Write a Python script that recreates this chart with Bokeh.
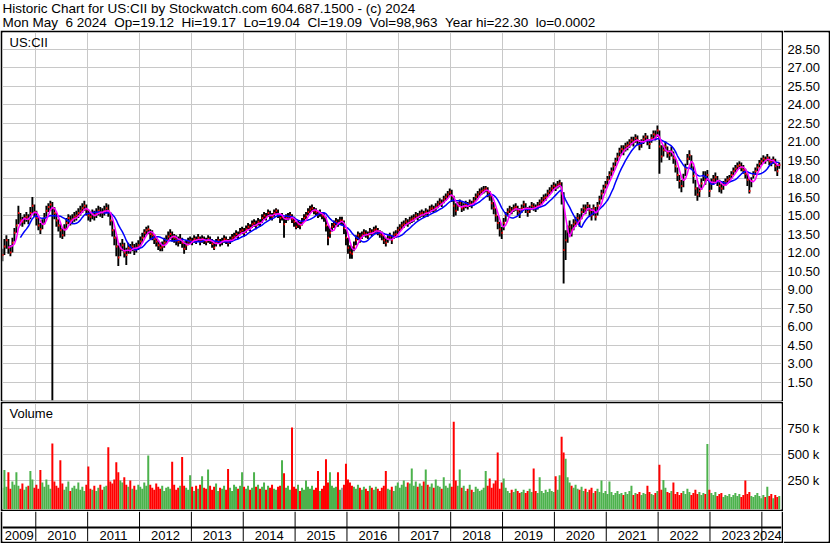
import numpy as np
import pandas as pd
from bokeh.plotting import figure
from bokeh.layouts import column, row
from bokeh.models import Range1d, FixedTicker, Label, ColumnDataSource, Span
from bokeh.core.properties import value
from bokeh.embed import file_html
from bokeh.resources import INLINE

FONT = "Liberation Sans"
FS = "13px"
HEAD_FS = "13.5px"

header1 = "Historic Chart for US:CII by Stockwatch.com 604.687.1500 - (c) 2024"
header2 = ("Mon May \u00a06 2024 \u00a0Op=19.12 \u00a0Hi=19.17 \u00a0Lo=19.04 \u00a0Cl=19.09"
           " \u00a0Vol=98,963 \u00a0Year hi=22.30 \u00a0lo=0.0002")
symbol = "US:CII"

first_bar = "2009-05-11"
last_bar = "2024-05-03"

# bi-weekly bars: close, high, low (price) and volume (thousands)
close = [
    11.8, 12.5, 13.0, 12.4, 12.0, 12.8, 13.6, 14.2, 15.2, 14.6,
    14.5, 14.8, 14.9, 14.7, 15.2, 15.8, 15.3, 14.8, 14.2, 13.9,
    14.3, 14.8, 15.4, 15.7, 15.9, 15.6, 15.2, 14.6, 14.2, 13.8,
    13.4, 13.9, 14.4, 14.8, 14.6, 14.7, 14.9, 15.0, 15.2, 15.4,
    15.6, 15.8, 15.5, 15.0, 14.9, 15.1, 15.0, 15.2, 15.4, 15.3,
    15.2, 15.4, 15.6, 15.4, 14.6, 13.8, 13.2, 12.5, 11.6, 12.3,
    12.6, 12.0, 11.8, 12.4, 12.3, 12.5, 12.2, 12.4, 12.6, 12.9,
    13.2, 13.6, 13.8, 13.9, 13.5, 13.4, 13.1, 12.9, 12.6, 12.4,
    12.5, 12.8, 13.0, 13.3, 13.5, 13.3, 13.2, 13.0, 12.9, 13.1,
    12.8, 12.3, 12.6, 12.9, 13.0, 12.9, 13.1, 13.0, 13.2, 12.9,
    13.1, 13.0, 12.9, 13.1, 13.0, 12.7, 12.4, 12.8, 13.0, 12.8,
    12.9, 13.1, 13.0, 12.8, 13.0, 13.2, 13.3, 13.5, 13.4, 13.7,
    13.8, 13.6, 13.9, 14.1, 14.0, 14.3, 14.4, 14.2, 14.5, 14.4,
    14.8, 15.0, 14.9, 15.2, 15.0, 14.9, 15.2, 15.4, 15.1, 14.8,
    14.9, 14.3, 14.8, 14.9, 15.0, 14.7, 14.5, 14.1, 14.3, 14.2,
    14.5, 14.8, 15.0, 15.3, 15.5, 15.6, 15.4, 15.3, 15.1, 15.2,
    15.0, 14.9, 14.2, 13.2, 13.6, 14.1, 14.3, 14.5, 14.4, 14.6,
    14.6, 14.0, 13.2, 12.4, 12.0, 11.9, 12.5, 13.0, 13.4, 13.2,
    13.4, 13.6, 13.5, 13.4, 13.7, 13.6, 13.8, 13.9, 13.7, 13.5,
    13.4, 13.0, 12.8, 13.1, 13.3, 13.0, 13.4, 13.5, 13.8, 14.0,
    14.2, 14.3, 14.5, 14.4, 14.6, 14.7, 14.8, 15.0, 14.9, 15.1,
    15.2, 15.1, 15.3, 15.2, 15.5, 15.6, 15.5, 15.7, 15.9, 16.1,
    16.0, 16.3, 16.5, 16.7, 16.9, 16.6, 15.8, 15.4, 15.8, 16.0,
    15.6, 15.7, 15.9, 15.8, 16.0, 15.9, 16.2, 16.5, 16.7, 16.9,
    17.0, 17.1, 17.2, 16.9, 16.6, 16.0, 15.6, 15.0, 14.4, 13.9,
    13.6, 14.4, 15.0, 15.3, 15.5, 15.4, 15.6, 15.7, 15.4, 15.2,
    15.6, 15.9, 15.6, 15.3, 15.5, 15.8, 15.7, 15.6, 15.8, 16.0,
    16.2, 16.4, 16.5, 16.8, 17.0, 17.2, 17.4, 17.3, 17.5, 17.6,
    16.8, 12.2, 13.0, 13.7, 14.1, 13.8, 14.3, 14.5, 14.8, 14.6,
    15.3, 15.6, 15.5, 15.8, 15.4, 15.0, 15.6, 14.9, 15.8, 16.3,
    16.8, 17.2, 17.5, 17.9, 18.3, 18.6, 19.0, 19.4, 19.8, 20.2,
    20.4, 20.3, 20.6, 20.7, 20.9, 21.1, 21.0, 21.3, 21.1, 20.7,
    20.9, 21.2, 21.4, 21.1, 20.8, 21.3, 21.6, 21.5, 21.9, 20.6,
    19.8, 20.3, 20.6, 20.1, 19.9, 20.2, 19.7, 19.0, 18.3, 17.8,
    17.4, 17.9, 18.8, 19.6, 19.9, 19.3, 18.2, 17.2, 16.7, 17.0,
    17.6, 18.2, 17.9, 18.3, 17.0, 17.6, 17.9, 18.1, 17.8, 17.4,
    17.2, 17.5, 17.7, 17.9, 18.0, 18.3, 18.6, 18.8, 19.0, 19.1,
    18.9, 18.7, 18.4, 17.9, 17.0, 17.8, 18.3, 18.6, 18.9, 19.2,
    19.4, 19.6, 19.5, 19.7, 19.4, 19.3, 19.5, 19.0, 18.6, 19.1,
]

high = [
    12.3, 13.1, 13.4, 13.1, 12.6, 13.2, 14.0, 14.7, 15.8, 15.2,
    14.9, 15.1, 15.3, 15.1, 15.7, 16.5, 15.9, 15.4, 14.8, 14.4,
    14.7, 15.2, 15.8, 16.0, 16.2, 16.1, 15.7, 15.2, 14.7, 14.3,
    14.0, 14.3, 14.8, 15.1, 15.0, 15.1, 15.3, 15.4, 15.6, 15.8,
    16.0, 16.2, 15.9, 15.5, 15.3, 15.5, 15.4, 15.6, 15.8, 15.7,
    15.6, 15.8, 16.0, 15.9, 15.3, 14.6, 13.9, 13.3, 12.6, 12.8,
    13.1, 12.8, 12.4, 12.8, 12.7, 12.9, 12.7, 12.8, 13.0, 13.3,
    13.6, 13.9, 14.1, 14.2, 13.9, 13.8, 13.5, 13.3, 13.0, 12.8,
    12.9, 13.2, 13.4, 13.7, 13.9, 13.7, 13.5, 13.4, 13.3, 13.5,
    13.2, 12.9, 13.0, 13.2, 13.3, 13.2, 13.4, 13.3, 13.5, 13.3,
    13.4, 13.3, 13.2, 13.4, 13.3, 13.1, 12.9, 13.1, 13.3, 13.1,
    13.2, 13.4, 13.3, 13.1, 13.3, 13.5, 13.6, 13.8, 13.7, 14.0,
    14.1, 14.0, 14.2, 14.4, 14.3, 14.6, 14.7, 14.6, 14.8, 14.7,
    15.1, 15.3, 15.2, 15.5, 15.4, 15.2, 15.5, 15.6, 15.5, 15.1,
    15.2, 14.9, 15.1, 15.2, 15.3, 15.1, 14.9, 14.5, 14.6, 14.5,
    14.8, 15.1, 15.3, 15.6, 15.8, 15.9, 15.7, 15.6, 15.4, 15.5,
    15.3, 15.2, 14.9, 14.2, 14.0, 14.4, 14.6, 14.8, 14.7, 14.9,
    14.9, 14.6, 13.9, 13.2, 12.6, 12.5, 12.9, 13.4, 13.7, 13.6,
    13.7, 13.9, 13.8, 13.7, 14.0, 13.9, 14.1, 14.2, 14.0, 13.8,
    13.7, 13.4, 13.2, 13.4, 13.6, 13.4, 13.7, 13.8, 14.1, 14.3,
    14.5, 14.6, 14.8, 14.7, 14.9, 15.0, 15.1, 15.3, 15.2, 15.4,
    15.5, 15.4, 15.6, 15.5, 15.8, 15.9, 15.8, 16.0, 16.2, 16.4,
    16.3, 16.6, 16.8, 17.0, 17.2, 17.1, 16.6, 16.0, 16.1, 16.3,
    16.1, 16.0, 16.2, 16.1, 16.3, 16.2, 16.5, 16.8, 17.0, 17.2,
    17.3, 17.4, 17.4, 17.3, 17.0, 16.6, 16.1, 15.6, 15.0, 14.5,
    14.1, 14.8, 15.3, 15.6, 15.8, 15.7, 15.9, 16.0, 15.8, 15.6,
    15.9, 16.2, 16.0, 15.7, 15.8, 16.1, 16.0, 15.9, 16.1, 16.3,
    16.5, 16.7, 16.8, 17.1, 17.3, 17.5, 17.7, 17.6, 17.8, 17.9,
    17.7, 16.9, 13.8, 14.2, 14.6, 14.3, 14.7, 14.9, 15.2, 15.1,
    15.6, 15.9, 15.9, 16.1, 15.9, 15.6, 15.9, 15.7, 16.1, 16.6,
    17.1, 17.5, 17.8, 18.2, 18.6, 18.9, 19.3, 19.7, 20.1, 20.5,
    20.7, 20.7, 20.9, 21.0, 21.2, 21.4, 21.4, 21.6, 21.5, 21.1,
    21.2, 21.5, 21.7, 21.5, 21.2, 21.6, 21.9, 21.9, 22.3, 21.9,
    20.7, 20.7, 21.0, 20.6, 20.3, 20.6, 20.2, 19.6, 18.9, 18.3,
    17.9, 18.4, 19.2, 20.0, 20.3, 19.9, 19.0, 17.9, 17.3, 17.5,
    18.0, 18.6, 18.6, 18.7, 17.8, 18.0, 18.3, 18.5, 18.2, 17.9,
    17.6, 17.8, 18.0, 18.2, 18.3, 18.6, 18.9, 19.1, 19.3, 19.4,
    19.3, 19.1, 18.8, 18.4, 18.0, 18.1, 18.6, 18.9, 19.2, 19.5,
    19.7, 19.9, 19.8, 20.0, 19.8, 19.6, 19.8, 19.6, 19.1, 19.3,
]

low = [
    11.3, 11.8, 12.3, 11.9, 11.7, 12.0, 12.9, 13.6, 14.3, 14.2,
    14.1, 14.3, 14.5, 14.3, 14.7, 15.2, 14.9, 14.2, 13.8, 13.5,
    13.9, 14.3, 14.9, 15.3, 15.4, 0.0002, 14.7, 14.1, 13.7, 13.2,
    13.1, 13.3, 13.9, 14.3, 14.2, 14.3, 14.5, 14.6, 14.8, 15.0,
    15.2, 15.4, 15.0, 14.6, 14.5, 14.7, 14.6, 14.8, 15.0, 14.9,
    14.8, 15.0, 15.2, 14.9, 14.2, 13.3, 12.6, 11.7, 10.9, 11.7,
    12.1, 11.6, 11.0, 11.9, 11.9, 12.1, 11.8, 12.0, 12.2, 12.5,
    12.8, 13.2, 13.4, 13.5, 13.1, 13.0, 12.7, 12.5, 12.2, 12.1,
    12.1, 12.4, 12.7, 12.9, 13.1, 12.9, 12.8, 12.6, 12.5, 12.7,
    12.4, 11.9, 12.2, 12.6, 12.7, 12.6, 12.8, 12.7, 12.9, 12.6,
    12.8, 12.7, 12.6, 12.8, 12.7, 12.4, 12.2, 12.5, 12.7, 12.5,
    12.6, 12.8, 12.7, 12.5, 12.7, 12.9, 13.0, 13.2, 13.1, 13.4,
    13.5, 13.3, 13.6, 13.8, 13.7, 14.0, 14.1, 13.9, 14.2, 14.1,
    14.4, 14.7, 14.6, 14.9, 14.7, 14.6, 14.9, 15.1, 14.8, 14.4,
    14.6, 13.2, 14.4, 14.6, 14.7, 14.4, 14.1, 13.9, 14.0, 13.9,
    14.2, 14.5, 14.7, 15.0, 15.2, 15.3, 15.1, 15.0, 14.8, 14.9,
    14.7, 14.5, 13.7, 12.6, 13.2, 13.7, 14.0, 14.2, 14.1, 14.3,
    14.2, 13.5, 12.6, 11.9, 11.5, 11.5, 12.1, 12.6, 13.0, 12.8,
    13.1, 13.3, 13.2, 13.1, 13.4, 13.3, 13.5, 13.6, 13.4, 13.2,
    13.0, 12.7, 12.5, 12.8, 13.0, 12.7, 13.1, 13.2, 13.5, 13.7,
    13.9, 14.0, 14.2, 14.1, 14.3, 14.4, 14.5, 14.7, 14.6, 14.8,
    14.9, 14.8, 15.0, 14.9, 15.2, 15.3, 15.2, 15.4, 15.6, 15.8,
    15.7, 16.0, 16.2, 16.4, 16.6, 16.1, 14.9, 15.0, 15.4, 15.7,
    15.3, 15.4, 15.6, 15.5, 15.7, 15.6, 15.9, 16.2, 16.4, 16.6,
    16.7, 16.8, 16.9, 16.5, 16.2, 15.5, 15.1, 14.5, 13.9, 13.3,
    13.1, 13.8, 14.5, 15.0, 15.2, 15.1, 15.3, 15.4, 15.0, 14.8,
    15.2, 15.6, 15.2, 14.9, 15.2, 15.5, 15.4, 15.3, 15.5, 15.7,
    15.9, 16.1, 16.2, 16.5, 16.7, 16.9, 17.1, 17.0, 17.2, 17.3,
    15.9, 9.5, 11.4, 12.8, 13.5, 13.3, 13.8, 14.1, 14.3, 14.1,
    14.7, 15.2, 15.1, 15.4, 14.9, 14.6, 15.0, 14.6, 15.0, 15.9,
    16.3, 16.8, 17.2, 17.5, 17.9, 18.2, 18.6, 19.0, 19.4, 19.8,
    20.0, 19.9, 20.2, 20.3, 20.5, 20.7, 20.6, 20.9, 20.7, 20.3,
    20.5, 20.8, 21.0, 20.7, 20.4, 20.9, 21.2, 21.1, 21.4, 18.4,
    19.3, 19.8, 20.2, 19.7, 19.5, 19.8, 19.2, 18.5, 17.8, 17.2,
    16.9, 17.3, 18.2, 19.1, 19.5, 18.8, 17.6, 16.6, 16.2, 16.5,
    17.1, 17.8, 17.5, 17.8, 16.5, 17.1, 17.5, 17.7, 17.4, 16.9,
    16.8, 17.1, 17.4, 17.6, 17.7, 18.0, 18.3, 18.5, 18.7, 18.8,
    18.6, 18.4, 18.0, 17.4, 16.8, 17.3, 18.0, 18.3, 18.6, 18.9,
    19.1, 19.3, 19.2, 19.4, 19.1, 19.0, 19.2, 18.6, 18.2, 18.8,
]

volume_k = [
    180, 350, 190, 330, 170, 240, 210, 330, 200, 170,
    220, 160, 190, 200, 340, 260, 180, 210, 170, 350,
    230, 190, 260, 210, 170, 605, 240, 200, 180, 445,
    220, 160, 190, 240, 150, 180, 200, 170, 230, 160,
    190, 150, 210, 385, 170, 160, 200, 150, 180, 210,
    160, 190, 200, 570, 240, 220, 260, 425, 330, 250,
    230, 280, 210, 190, 250, 170, 200, 160, 210, 190,
    170, 230, 200, 490, 210, 180, 160, 220, 190, 170,
    200, 150, 180, 190, 170, 430, 210, 160, 180, 200,
    475, 200, 180, 160, 300, 190, 150, 200, 170, 210,
    290, 180, 170, 355, 200, 160, 190, 220, 150, 180,
    170, 200, 160, 360, 180, 150, 210, 190, 170, 200,
    330, 190, 170, 200, 160, 180, 330, 190, 210, 170,
    190, 230, 160, 200, 180, 210, 170, 160, 190, 200,
    445, 320, 180, 200, 160, 760, 190, 170, 210, 150,
    180, 160, 250, 190, 170, 200, 160, 180, 340, 150,
    170, 200, 455, 230, 330, 200, 180, 190, 330, 160,
    180, 210, 410, 260, 230, 200, 190, 170, 210, 180,
    160, 190, 170, 150, 200, 180, 160, 190, 170, 150,
    180, 200, 340, 170, 160, 190, 150, 200, 230, 180,
    210, 250, 190, 230, 220, 365, 200, 240, 190, 220,
    200, 240, 355, 210, 190, 220, 180, 260, 200, 190,
    170, 280, 200, 180, 220, 190, 815, 250, 200, 355,
    180, 200, 150, 170, 210, 160, 140, 190, 170, 150,
    160, 180, 340, 200, 270, 180, 220, 250, 520, 170,
    230, 270, 180, 150, 130, 160, 140, 170, 150, 130,
    140, 160, 130, 150, 170, 140, 365, 150, 130, 280,
    150, 130, 160, 140, 170, 150, 140, 290, 160, 300,
    670, 520, 460, 280, 230, 200, 180, 210, 170, 160,
    190, 150, 170, 140, 160, 180, 130, 150, 170, 140,
    250, 130, 150, 120, 240, 140, 110, 130, 150, 120,
    130, 110, 140, 120, 150, 200, 110, 130, 120, 140,
    110, 130, 120, 200, 140, 120, 110, 130, 150, 400,
    160, 255, 180, 140, 130, 150, 230, 120, 140, 110,
    130, 150, 120, 170, 140, 110, 130, 160, 120, 140,
    110, 130, 120, 600, 160, 130, 110, 140, 100, 120,
    130, 90, 110, 100, 120, 90, 110, 130, 100, 120,
    90, 110, 250, 120, 140, 100, 90, 110, 130, 100,
    80, 110, 90, 190, 100, 120, 80, 110, 90, 100,
]

price_ticks = [1.5, 3.0, 4.5, 6.0, 7.5, 9.0, 10.5, 12.0, 13.5, 15.0,
               16.5, 18.0, 19.5, 21.0, 22.5, 24.0, 25.5, 27.0, 28.5]
price_labels = ["1.50", "3.00", "4.50", "6.00", "7.50", "9.00", "10.50", "12.00",
                "13.50", "15.00", "16.50", "18.00", "19.50", "21.00", "22.50",
                "24.00", "25.50", "27.00", "28.50"]
vol_ticks = [250000, 500000, 750000]
vol_labels = ["250 k", "500 k", "750 k"]
years = [2009, 2010, 2011, 2012, 2013, 2014, 2015, 2016, 2017, 2018,
         2019, 2020, 2021, 2022, 2023, 2024]

# ---------------- layout constants ----------------
W = 830
LEFT_W = 783
RA_W = W - LEFT_W
HEAD_H = 30
PF_H, PF_BT, PF_BB = 371, 2, 1
VF_H, VF_BT, VF_BB = 110, 2, 2
XF_H, XF_BB = 32, 2
RA_H = PF_H + VF_H + XF_H
SIDE = 2

X_START, X_END = 2009.358, 2024.379
P_MIN, P_MAX = 0.0, 29.85
V_MIN, V_MAX = -29000, 990000

GRID = "#c8c8c8"
UP = "#4cb24c"
DOWN = "#ff0000"
FLAT = "#a0a0a0"

# ---------------- data prep ----------------
n = len(close)
dates = pd.date_range(first_bar, last_bar, periods=n)
days_in_year = np.where(dates.is_leap_year, 366.0, 365.0)
t = np.asarray(dates.year + (dates.dayofyear - 1 + dates.hour / 24.0) / days_in_year, dtype=float)
dt = (t[-1] - t[0]) / (n - 1)

c = np.array(close, dtype=float)
ma_short = pd.Series(c).rolling(4).mean().to_numpy()
ma_long = pd.Series(c).rolling(10).mean().to_numpy()
diff = np.diff(c, prepend=c[0] - 0.1)
vcol = [UP if d > 0 else (DOWN if d < 0 else FLAT) for d in diff]

src = ColumnDataSource(dict(
    t=t, tr=t + 0.55 * dt, tl=t - 0.15 * dt, c=c,
    hi=np.array(high, dtype=float), lo=np.array(low, dtype=float),
    v=np.array(volume_k, dtype=float) * 1000.0, col=vcol,
))


def base_fig(w, h, xr, yr, bl=0, br=0, bt=0, bb=0):
    p = figure(width=w, height=h, x_range=xr, y_range=yr,
               toolbar_location=None, output_backend="svg",
               x_axis_location=None, y_axis_location=None,
               min_border_left=bl, min_border_right=br,
               min_border_top=bt, min_border_bottom=bb,
               border_fill_color="black", background_fill_color="white",
               outline_line_color=None)
    p.grid.grid_line_color = None
    return p


xr = Range1d(X_START, X_END)
px_per_year = (LEFT_W - 2 * SIDE) / (X_END - X_START)

# ---------------- header ----------------
hf = figure(width=W, height=HEAD_H, x_range=Range1d(0, W), y_range=Range1d(HEAD_H, 0),
            toolbar_location=None, output_backend="svg",
            x_axis_location=None, y_axis_location=None,
            min_border_left=0, min_border_right=0, min_border_top=0, min_border_bottom=0,
            border_fill_color="white", background_fill_color="white",
            outline_line_color=None)
hf.grid.grid_line_color = None
hf.text(x=[2, 2], y=[8, 22], text=[header1, header2], text_font=value(FONT),
        text_font_size=HEAD_FS, text_color="black", text_align="left", text_baseline="middle")

# ---------------- price panel ----------------
pf = base_fig(LEFT_W, PF_H, xr, Range1d(P_MIN, P_MAX), bl=SIDE, br=SIDE, bt=PF_BT, bb=PF_BB)
pf.xgrid.ticker = FixedTicker(ticks=years[1:])
pf.xgrid.grid_line_color = GRID
pf.ygrid.ticker = FixedTicker(ticks=price_ticks)
pf.ygrid.grid_line_color = GRID
pf.segment(x0="t", y0="lo", x1="t", y1="hi", source=src, line_color="black", line_width=1.9)
pf.segment(x0="tl", y0="c", x1="tr", y1="c", source=src, line_color="#ff0000", line_width=2)
pf.line(t, ma_long, line_color="#0000ff", line_width=1.5)
pf.line(t, ma_short, line_color="#ff00ff", line_width=1.5)

pf_frame_h = PF_H - PF_BT - PF_BB
px_per_price = pf_frame_h / (P_MAX - P_MIN)
pf.add_layout(Label(x=X_START + 7 / px_per_year, y=P_MAX - 10 / px_per_price, text=symbol,
                    text_font=FONT, text_font_size=FS, text_color="black",
                    text_baseline="middle", text_align="left"))

# ---------------- volume panel ----------------
vf = base_fig(LEFT_W, VF_H, xr, Range1d(V_MIN, V_MAX), bl=SIDE, br=SIDE, bt=VF_BT, bb=VF_BB)
vf.xgrid.ticker = FixedTicker(ticks=years[1:])
vf.xgrid.grid_line_color = GRID
vf.ygrid.ticker = FixedTicker(ticks=vol_ticks)
vf.ygrid.grid_line_color = GRID
vf.vbar(x="t", width=dt, top="v", bottom=V_MIN, source=src, fill_color="col", line_color=None)
vf_frame_h = VF_H - VF_BT - VF_BB
px_per_vol = vf_frame_h / (V_MAX - V_MIN)
vf.add_layout(Label(x=X_START + 7 / px_per_year, y=V_MAX - 10 / px_per_vol, text="Volume",
                    text_font=FONT, text_font_size=FS, text_color="black",
                    text_baseline="middle", text_align="left"))

# ---------------- year strip ----------------
xf_frame_h = XF_H - XF_BB
xf = base_fig(LEFT_W, XF_H, xr, Range1d(0, xf_frame_h), bl=SIDE, br=SIDE, bt=0, bb=XF_BB)
xf.segment(x0=years[1:], y0=0, x1=years[1:], y1=xf_frame_h, line_color="black", line_width=1)
xf.add_layout(Span(location=14, dimension="width", line_color="black", line_width=2))
half_label = 14.2 / px_per_year
lab_x = [min((max(y, X_START) + min(y + 1, X_END)) / 2, X_END - half_label) for y in years]
xf.text(x=lab_x, y=[6] * len(years), text=[str(y) for y in years], text_font=value(FONT),
        text_font_size=FS, text_color="black", text_align="center", text_baseline="middle")

# ---------------- right axis area ----------------
ra_frame_top = HEAD_H + 2
ra_frame_bot = HEAD_H + RA_H - 2
pf_frame_top = HEAD_H + PF_BT
pf_frame_bot = HEAD_H + PF_H - PF_BB
vf_frame_top = HEAD_H + PF_H + VF_BT
vf_frame_bot = HEAD_H + PF_H + VF_H - VF_BB

ra = base_fig(RA_W, RA_H, Range1d(0, RA_W - 2), Range1d(0, 1), bl=0, br=2, bt=2, bb=2)
ra.extra_y_ranges = {
    "price": Range1d(P_MIN - (ra_frame_bot - pf_frame_bot) / px_per_price,
                     P_MAX + (pf_frame_top - ra_frame_top) / px_per_price),
    "vol": Range1d(V_MIN - (ra_frame_bot - vf_frame_bot) / px_per_vol,
                   V_MAX + (vf_frame_top - ra_frame_top) / px_per_vol),
}
ra.text(x=[4] * len(price_ticks), y=price_ticks, text=price_labels, y_range_name="price",
        text_font=value(FONT), text_font_size=FS, text_color="black",
        text_align="left", text_baseline="middle")
ra.text(x=[4] * len(vol_ticks), y=vol_ticks, text=vol_labels, y_range_name="vol",
        text_font=value(FONT), text_font_size=FS, text_color="black",
        text_align="left", text_baseline="middle")

layout = column(hf, row(column(pf, vf, xf, spacing=0), ra, spacing=0), spacing=0)

open("out.html", "w").write(file_html(layout, INLINE))
